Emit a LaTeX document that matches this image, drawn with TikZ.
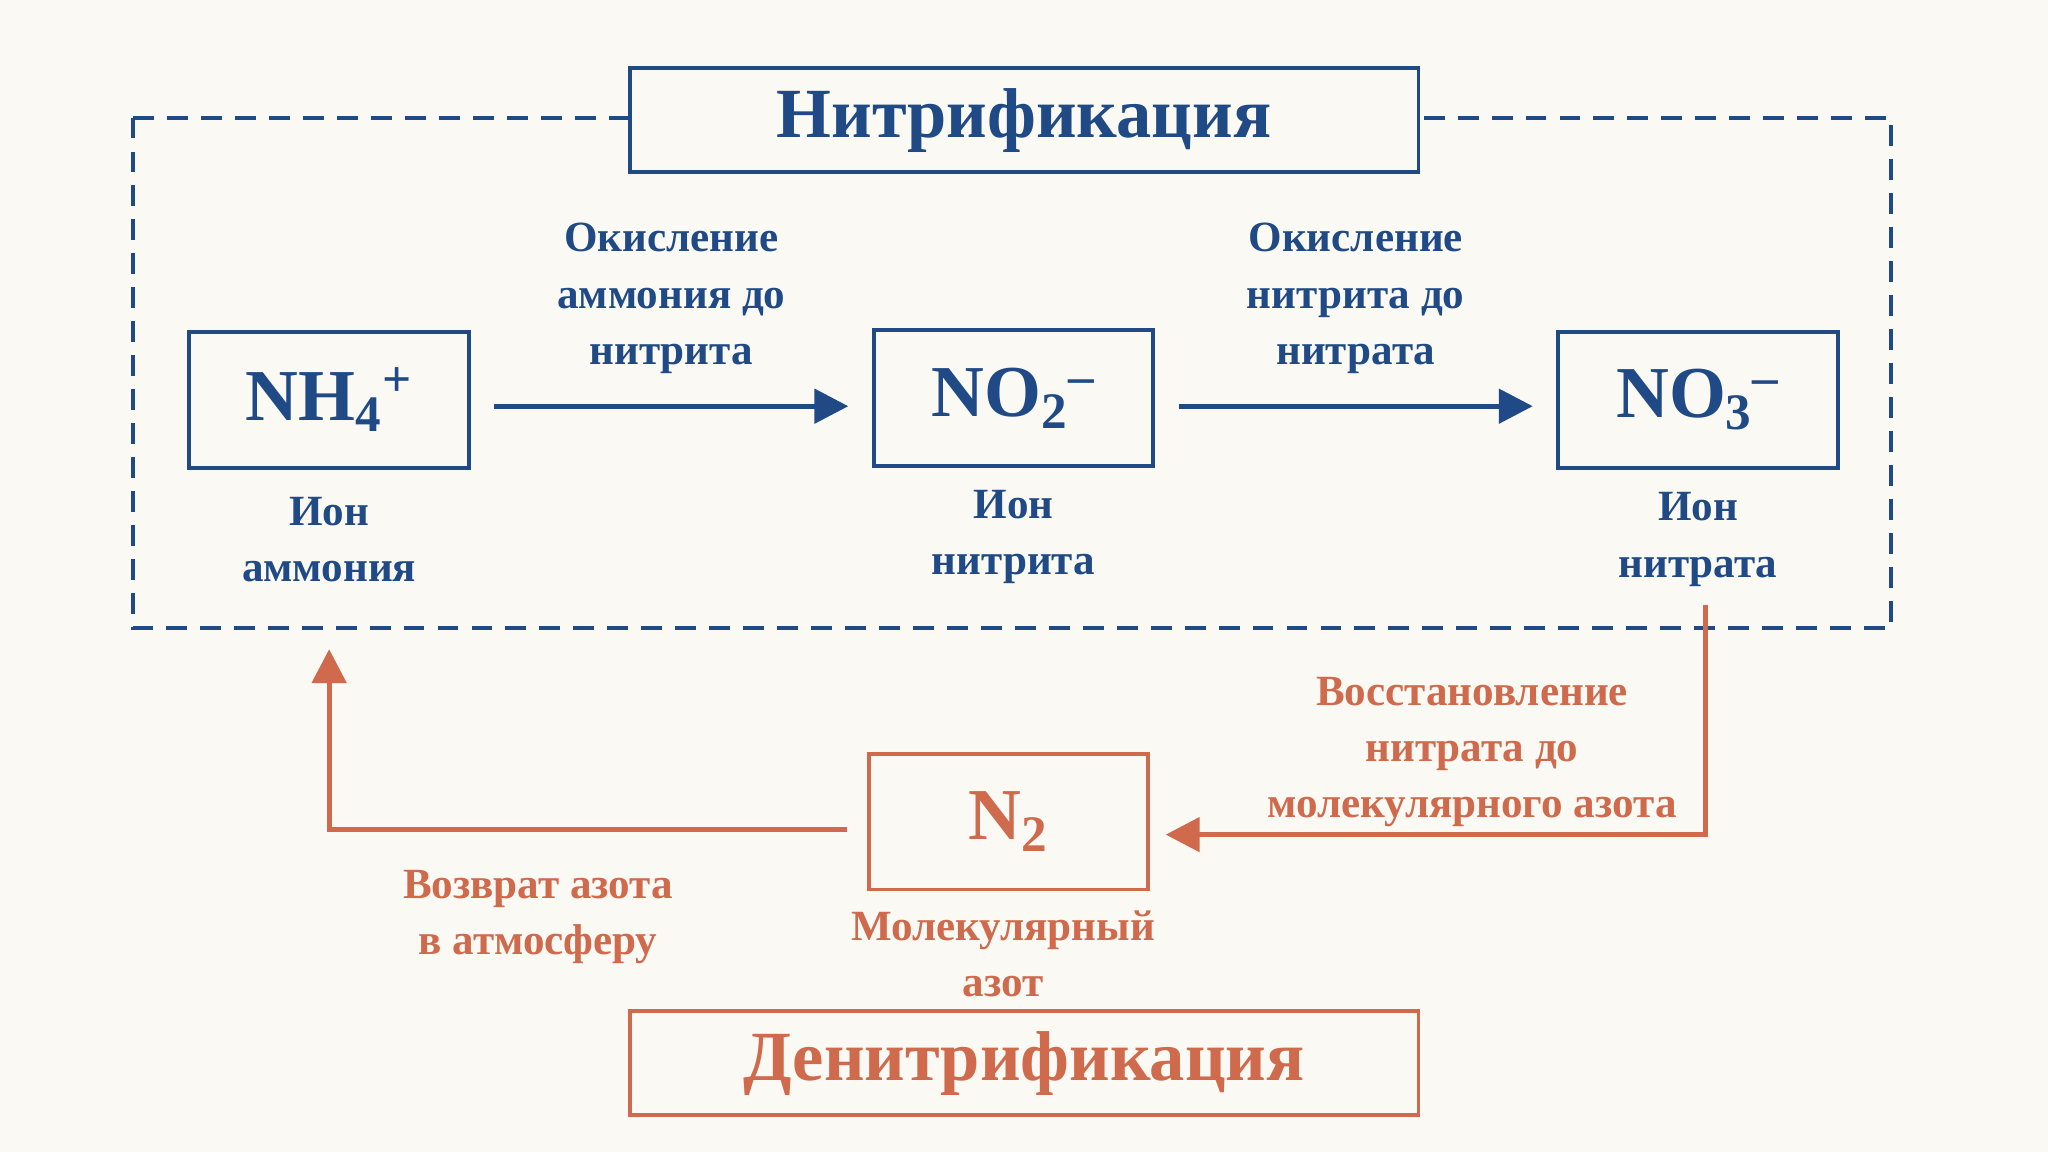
\documentclass[tikz,border=0pt]{standalone}
\usepackage{fontspec}
\setmainfont{Liberation Serif}
\usetikzlibrary{arrows.meta,positioning}
\definecolor{bgcol}{HTML}{FBF9F4}
\definecolor{nitblue}{HTML}{1F4A85}
\definecolor{denorange}{HTML}{CF6A4C}
\tikzset{
  chembox/.style = {draw, line width=1.5pt, minimum width=107pt, minimum height=52pt, font=\bfseries\fontsize{28}{30}\selectfont},
  titlebox/.style = {line width=1.5pt, fill=bgcol, minimum width=302pt, minimum height=40pt, font=\bfseries\fontsize{27}{30}\selectfont},
  caption/.style = {align=center, font=\bfseries\fontsize{16.5}{21.5}\selectfont},
  flow/.style = {line width=2pt, -{Triangle[length=13pt,width=13pt]}},
}
\begin{document}
\begin{tikzpicture}[x=0.5pt, y=-0.5pt]
\fill[bgcol] (0,0) rectangle (1568,882);
\useasboundingbox (0,0) rectangle (1568,882);
% nitrification
\draw[nitblue, line width=1.5pt, dash pattern=on 8pt off 5pt] (102,90) rectangle (1448,481);
\node[titlebox, draw=nitblue, text=nitblue] (nitri) at (784,92) {Нитрификация};
\node[chembox, nitblue] (nh4) at (252,306) {NH\textsubscript{4}\textsuperscript{+}};
\node[chembox, nitblue] (no2) at (776,305) {NO\textsubscript{2}\textsuperscript{–}};
\node[chembox, nitblue] (no3) at (1300,306) {NO\textsubscript{3}\textsuperscript{–}};
\node[caption, nitblue] (nh4lbl) at (252,413) {Ион\\аммония};
\node[caption, nitblue] (no2lbl) at (776,411) {Ион\\нитрита};
\node[caption, nitblue] (no3lbl) at (1300,413) {Ион\\нитрата};
\draw[flow, nitblue] (nh4.east) ++(18,5) coordinate (a1) -- ([xshift=-9pt]a1 -| no2.west) coordinate (a2);
\path (a1) -- (a2) coordinate[pos=0.5] (a12);
\node[caption, nitblue, above=9pt of a12] (ox1) {Окисление\\аммония до\\нитрита};
\draw[flow, nitblue] (no2.east) ++(18,6) coordinate (b1) -- ([xshift=-9pt]b1 -| no3.west) coordinate (b2);
\path (b1) -- (b2) coordinate[pos=0.5] (b12);
\node[caption, nitblue, above=9pt of b12] (ox2) {Окисление\\нитрита до\\нитрата};
% denitrification
\node[chembox, denorange] (n2) at (772,629) {N\textsubscript{2}};
\node[caption, denorange] (n2lbl) at (768,730) {Молекулярный\\азот};
\node[titlebox, draw=denorange, text=denorange] (denitri) at (784,814) {Денитрификация};
\coordinate (red0) at (1306,463);
\coordinate (ret1) at (252,497);
\draw[flow, denorange] (red0) |- ([xshift=6pt,yshift=-5pt]n2.east);
\node[caption, denorange] (redlbl) at (1127,576) {Восстановление\\нитрата до\\молекулярного азота};
\draw[flow, denorange] ([yshift=-3pt]n2.west) ++(-15,0) -| (ret1);
\node[caption, denorange] (retlbl) at (412,702) {Возврат азота\\в атмосферу};
\end{tikzpicture}
\end{document}
